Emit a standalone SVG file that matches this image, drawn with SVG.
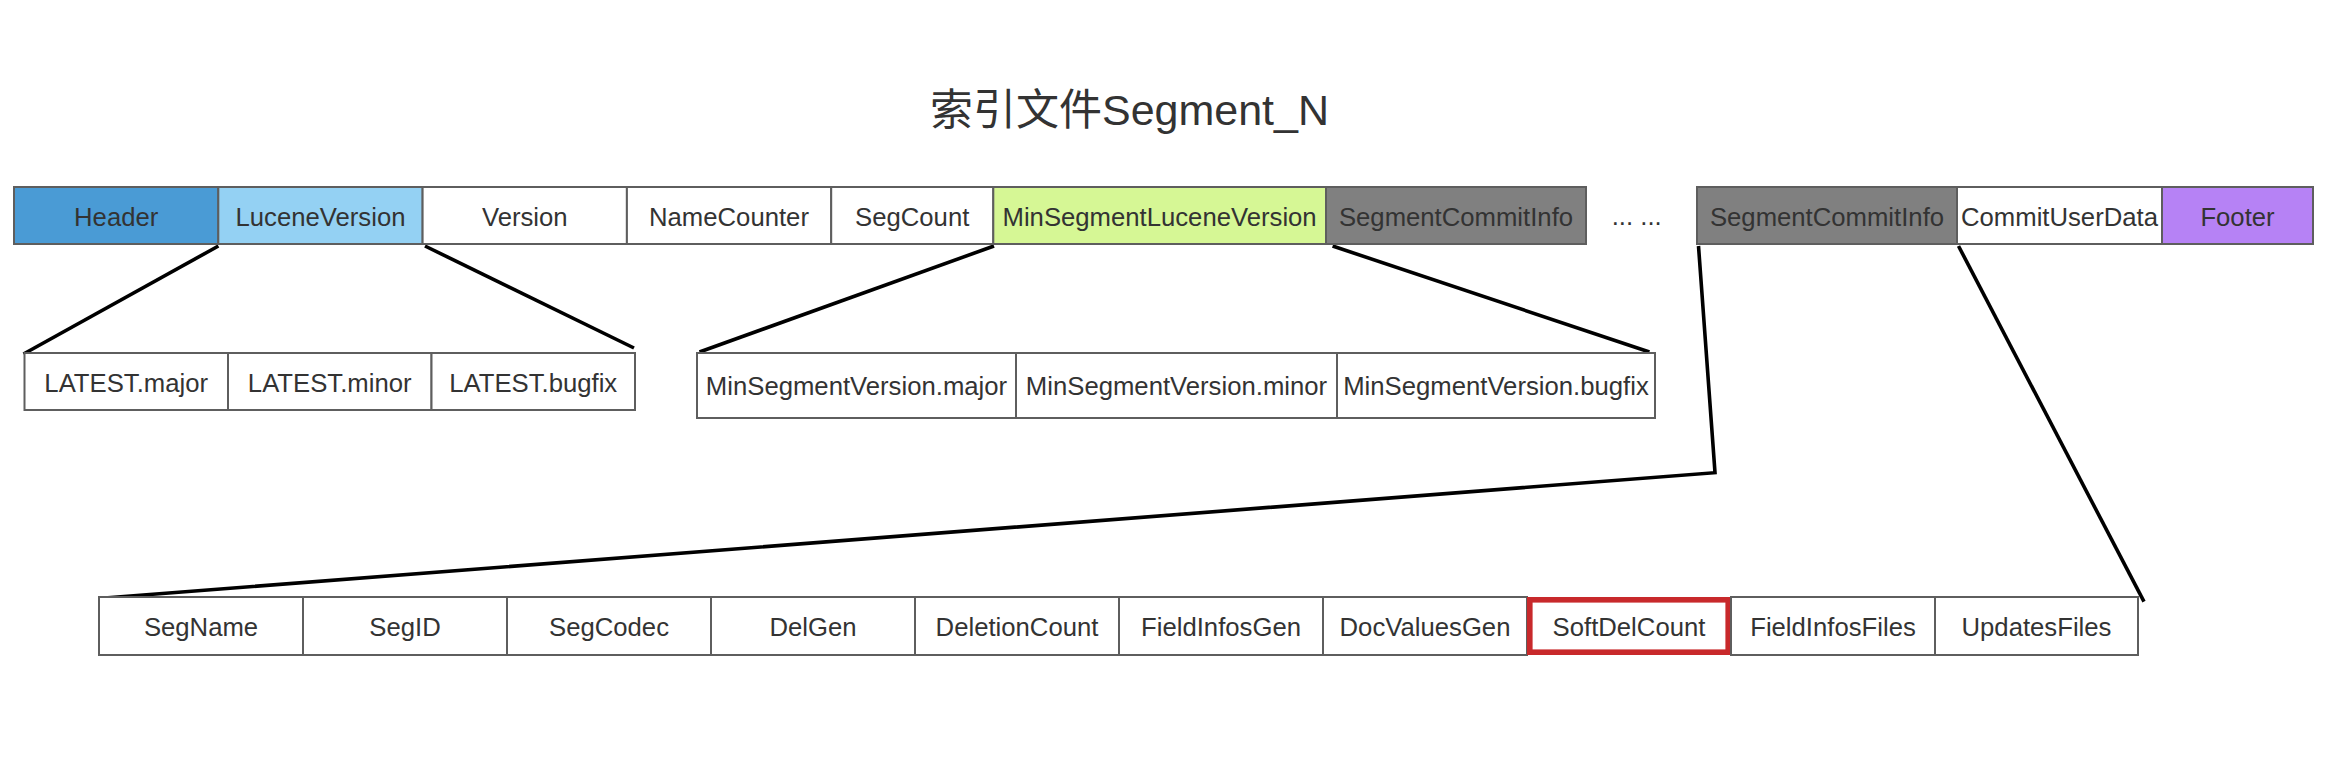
<svg xmlns="http://www.w3.org/2000/svg" width="2348" height="778" viewBox="0 0 2348 778">
<style>
.c{stroke:#5e5e5e;stroke-width:2}
.t{font-family:"Liberation Sans",Arial,"Noto Sans CJK SC",sans-serif;font-size:25.7px;fill:#333;text-anchor:middle}
.ln{fill:none;stroke:#000;stroke-width:3.6;stroke-linejoin:miter}
</style>
<rect width="2348" height="778" fill="#fff"/>
<text x="1129.5" y="125" style="font-family:'Liberation Sans',Arial,'Noto Sans CJK SC',sans-serif;font-size:43px;fill:#333;text-anchor:middle">索引文件Segment_N</text>

<g id="connectors">
<line class="ln" x1="218.4" y1="246" x2="23.5" y2="354"/>
<line class="ln" x1="425" y1="246" x2="634" y2="348"/>
<line class="ln" x1="994" y1="246" x2="699.5" y2="352"/>
<line class="ln" x1="1332.6" y1="246" x2="1649.4" y2="352"/>
<polyline class="ln" points="1698.5,246 1715,472.7 104.5,598"/>
<line class="ln" x1="1958.5" y1="246" x2="2144" y2="601.7"/>
</g>

<g id="top-row">
<g id="n-header"><rect class="c" x="14" y="187" width="204.3" height="57" fill="#4a9bd5"/><text class="t" x="116.2" y="226">Header</text></g>
<g id="n-luceneversion"><rect class="c" x="218.3" y="187" width="204.3" height="57" fill="#94d1f3"/><text class="t" x="320.5" y="226">LuceneVersion</text></g>
<g id="n-version"><rect class="c" x="422.6" y="187" width="204.3" height="57" fill="#fff"/><text class="t" x="524.8" y="226">Version</text></g>
<g id="n-namecounter"><rect class="c" x="626.9" y="187" width="204.3" height="57" fill="#fff"/><text class="t" x="729" y="226">NameCounter</text></g>
<g id="n-segcount"><rect class="c" x="831.2" y="187" width="162.1" height="57" fill="#fff"/><text class="t" x="912.2" y="226">SegCount</text></g>
<g id="n-minsegluceneversion"><rect class="c" x="993.3" y="187" width="332.7" height="57" fill="#d6f795"/><text class="t" x="1159.6" y="226">MinSegmentLuceneVersion</text></g>
<g id="n-sci1"><rect class="c" x="1326" y="187" width="260" height="57" fill="#808080"/><text class="t" x="1456" y="226">SegmentCommitInfo</text></g>
<g id="n-dots"><text class="t" x="1636.7" y="225">... ...</text></g>
<g id="n-sci2"><rect class="c" x="1697" y="187" width="260" height="57" fill="#808080"/><text class="t" x="1827" y="226">SegmentCommitInfo</text></g>
<g id="n-commituserdata"><rect class="c" x="1957" y="187" width="205" height="57" fill="#fff"/><text class="t" x="2059.5" y="226">CommitUserData</text></g>
<g id="n-footer"><rect class="c" x="2162" y="187" width="151" height="57" fill="#b682f5"/><text class="t" x="2237.5" y="226">Footer</text></g>
</g>

<g id="latest-row">
<g id="n-latest-major"><rect class="c" x="24.5" y="353" width="203.5" height="57" fill="#fff"/><text class="t" x="126.2" y="391.5">LATEST.major</text></g>
<g id="n-latest-minor"><rect class="c" x="228" y="353" width="203.5" height="57" fill="#fff"/><text class="t" x="329.7" y="391.5">LATEST.minor</text></g>
<g id="n-latest-bugfix"><rect class="c" x="431.5" y="353" width="203.5" height="57" fill="#fff"/><text class="t" x="533.2" y="391.5">LATEST.bugfix</text></g>
</g>

<g id="minseg-row">
<g id="n-msv-major"><rect class="c" x="697" y="353" width="319" height="65" fill="#fff"/><text class="t" x="856.5" y="395">MinSegmentVersion.major</text></g>
<g id="n-msv-minor"><rect class="c" x="1016" y="353" width="321" height="65" fill="#fff"/><text class="t" x="1176.5" y="395">MinSegmentVersion.minor</text></g>
<g id="n-msv-bugfix"><rect class="c" x="1337" y="353" width="318" height="65" fill="#fff"/><text class="t" x="1496" y="395">MinSegmentVersion.bugfix</text></g>
</g>

<g id="sci-row">
<g id="n-segname"><rect class="c" x="99" y="597" width="204" height="58" fill="#fff"/><text class="t" x="201" y="635.7">SegName</text></g>
<g id="n-segid"><rect class="c" x="303" y="597" width="204" height="58" fill="#fff"/><text class="t" x="405" y="635.7">SegID</text></g>
<g id="n-segcodec"><rect class="c" x="507" y="597" width="204" height="58" fill="#fff"/><text class="t" x="609" y="635.7">SegCodec</text></g>
<g id="n-delgen"><rect class="c" x="711" y="597" width="204" height="58" fill="#fff"/><text class="t" x="813" y="635.7">DelGen</text></g>
<g id="n-deletioncount"><rect class="c" x="915" y="597" width="204" height="58" fill="#fff"/><text class="t" x="1017" y="635.7">DeletionCount</text></g>
<g id="n-fieldinfosgen"><rect class="c" x="1119" y="597" width="204" height="58" fill="#fff"/><text class="t" x="1221" y="635.7">FieldInfosGen</text></g>
<g id="n-docvaluesgen"><rect class="c" x="1323" y="597" width="204" height="58" fill="#fff"/><text class="t" x="1425" y="635.7">DocValuesGen</text></g>
<g id="n-softdelcount"><rect x="1529.8" y="599.8" width="198.4" height="52.4" fill="#fff" stroke="#c8292b" stroke-width="5.6"/><text class="t" x="1629" y="635.7">SoftDelCount</text></g>
<g id="n-fieldinfosfiles"><rect class="c" x="1731" y="597" width="204" height="58" fill="#fff"/><text class="t" x="1833" y="635.7">FieldInfosFiles</text></g>
<g id="n-updatesfiles"><rect class="c" x="1935" y="597" width="203" height="58" fill="#fff"/><text class="t" x="2036.5" y="635.7">UpdatesFiles</text></g>
</g>
</svg>
